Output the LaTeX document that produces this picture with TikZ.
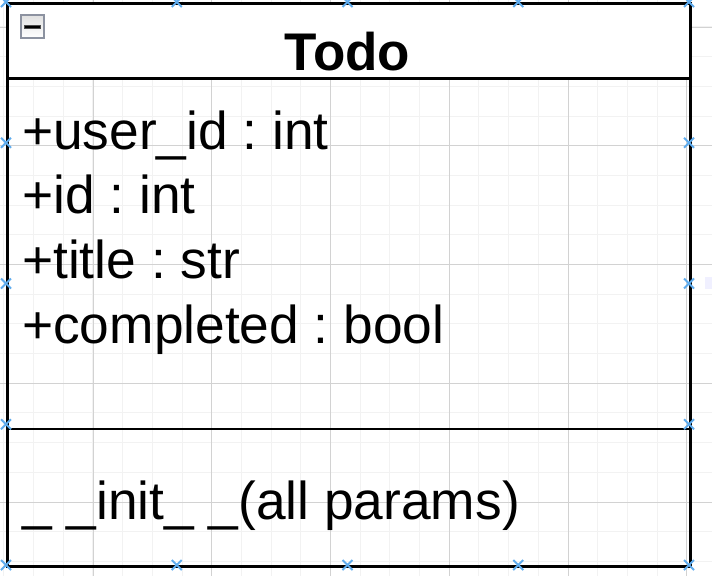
\documentclass[tikz,border=0pt]{standalone}
\usepackage{fontspec}
\setmainfont{Liberation Sans}
\frenchspacing
\definecolor{minorg}{RGB}{242,242,242}
\definecolor{majorg}{RGB}{210,210,210}
\definecolor{mark}{RGB}{95,172,238}
\definecolor{iconbd}{RGB}{140,146,160}
\begin{document}
\begin{tikzpicture}[x=1pt,y=-1pt,
  minorgrid/.style={draw=minorg,line width=1pt},
  majorgrid/.style={draw=majorg,line width=1pt},
  frame/.style={line width=2.8pt,draw=black},
  sepline/.style={line width=2.2pt,draw=black},
  attr/.style={anchor=base west,inner sep=0pt,font=\fontsize{53.3}{60}\selectfont\frenchspacing},
  titletext/.style={anchor=base,inner sep=0pt,font=\fontsize{53}{60}\selectfont\bfseries},
  marker/.style={draw=mark,line width=2pt},
]
\useasboundingbox (0,0) rectangle (712,576);
\fill[white] (0,0) rectangle (712,576);
% grid
\foreach \i in {0,...,23} { \draw[minorgrid] ({3.9+29.69*\i},0) -- ++(0,576); }
\foreach \j in {1,...,19} { \draw[minorgrid] (0,{-2.7+29.69*\j}) -- ++(712,0); }
\foreach \k in {0,...,5} { \draw[majorgrid] ({93+118.76*\k},0) -- ++(0,576); }
\foreach \k in {0,...,4} { \draw[majorgrid] (0,{27+118.76*\k}) -- ++(712,0); }
% faint hover square
\fill[blue!6] (705,277) rectangle (712,289);
% class box
\node[fill=white,draw=none,anchor=north west,minimum width=683pt,minimum height=76pt,inner sep=0pt] (head) at (6,2) {};
\node[draw=black,line width=2.8pt,anchor=north west,minimum width=683pt,minimum height=563pt,inner sep=0pt] (cls) at (6,2) {};
\draw[frame] (head.south west) -- (head.south east);
\coordinate (sepL) at (6,429);
\coordinate (sepR) at (689,429);
\draw[sepline] (sepL) -- (sepR);
% title
\node[titletext] (title) at (347.5,70.5) {Todo};
% toggle icon
\node[draw=iconbd,line width=2pt,top color=white!88!black,bottom color=white,minimum size=23pt,inner sep=0pt,anchor=north west] (toggle) at (19.5,14) {};
\node[fill=black,draw=black!70,line width=0.5pt,minimum width=16pt,minimum height=3.5pt,inner sep=0pt] (minus) at (toggle.center) {};
% attributes
\node[attr] (a1) at (22,149) {+user\_id : int};
\node[attr] (a2) at (22,213.5) {+id : int};
\node[attr] (a3) at (22,278) {+title : str};
\node[attr] (a4) at (22,343) {+completed : bool};
\node[attr] (m1) at (22,519) {\_ \_init\_ \_(all params)};
% connection markers
\foreach \x/\y in {6/2,176.75/2,347.5/2,518.25/2,689/2,
                   6/142.75,6/283.5,6/424.25,6/565,
                   689/142.75,689/283.5,689/424.25,689/565,
                   176.75/565,347.5/565,518.25/565} {
  \draw[marker] (\x-5,\y-5) -- (\x+5,\y+5) (\x-5,\y+5) -- (\x+5,\y-5);
}
\end{tikzpicture}
\end{document}
